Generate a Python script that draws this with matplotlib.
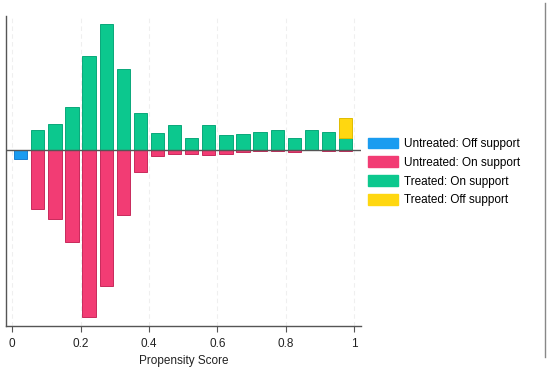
import matplotlib
matplotlib.use("Agg")
import matplotlib.pyplot as plt
from matplotlib.patches import Patch
from matplotlib.lines import Line2D
import numpy as np

plt.rcParams['font.family'] = ['Liberation Sans', 'DejaVu Sans']

bin_centers = [0.025, 0.075, 0.125, 0.175, 0.225, 0.275, 0.325, 0.375, 0.425, 0.475,
               0.525, 0.575, 0.625, 0.675, 0.725, 0.775, 0.825, 0.875, 0.925, 0.975]
treated_on = [0, 20.3, 26, 42.6, 93.6, 125.3, 81, 36.6, 16.6, 24.6,
              12.3, 24.6, 14.6, 15.6, 18.3, 20.3, 12.3, 20.3, 17.6, 11.6]
treated_off = [0, 0, 0, 0, 0, 0, 0, 0, 0, 0,
               0, 0, 0, 0, 0, 0, 0, 0, 0, 20.7]
untreated_on = [0, 59, 69, 91.6, 167, 135.6, 65, 22, 6, 4,
                4, 5, 4, 2, 1, 0.8, 2, 0.3, 1, 1]
untreated_off = [9.3, 0, 0, 0, 0, 0, 0, 0, 0, 0,
                 0, 0, 0, 0, 0, 0, 0, 0, 0, 0]
xticks = [0, 0.2, 0.4, 0.6, 0.8, 1]
xtick_labels = ['0', '0.2', '0.4', '0.6', '0.8', '1']
legend_labels = ['Untreated: Off support', 'Untreated: On support',
                 'Treated: On support', 'Treated: Off support']

c_blue = '#1a9cf0'
c_pink = '#f23c74'
c_green = '#0cc88e'
c_yellow = '#ffd710'

fig = plt.figure(figsize=(5.5, 3.74), dpi=100)
ax = fig.add_axes([6/550, 1-326/374, (361-6)/550, (326-16)/374])

w = 0.039
x = np.array(bin_centers)
to = np.array(treated_on)
tf = np.array(treated_off)
uo = np.array(untreated_on)
uf = np.array(untreated_off)

for xv in xticks:
    ax.axvline(xv, color='#efefef', lw=0.8, ls=(0, (4, 3)), zorder=0)


def draw(heights, bottoms, color, edge):
    m = heights != 0
    ax.bar(x[m], heights[m], width=w, bottom=bottoms[m], color=color,
           edgecolor=edge, lw=0.7, zorder=2)


zeros = np.zeros_like(x)
draw(to, zeros, c_green, '#0aa87a')
draw(tf, to, c_yellow, '#e0bc00')
draw(-uo, zeros, c_pink, '#c82a5c')
draw(-uf, -uo, c_blue, '#1a7fd0')

ax.axhline(0, color='#555555', lw=1.0, zorder=3)

ax.set_xlim(-0.018, 1.02)
ax.set_ylim(-175.5, 133.5)
ax.set_yticks([])
ax.set_xticks(xticks)
ax.set_xticklabels(xtick_labels, fontsize=8.5, color='#222222')
ax.tick_params(axis='x', length=4, width=0.8, color='#555555', pad=4.5)
ax.set_xlabel('Propensity Score', fontsize=8.5, color='#222222', labelpad=4)
for s in ['top', 'right']:
    ax.spines[s].set_visible(False)
for s in ['left', 'bottom']:
    ax.spines[s].set_color('#555555')
    ax.spines[s].set_linewidth(1.0)

handles = [Patch(facecolor=c, edgecolor=c) for c in [c_blue, c_pink, c_green, c_yellow]]
fig.legend(handles, legend_labels, loc='upper left', bbox_to_anchor=(364/550, 1-134/374),
           frameon=False, fontsize=8.5, handlelength=2.6, handleheight=1.0,
           handletextpad=0.5, labelspacing=0.55, borderaxespad=0, borderpad=0.3)

fig.add_artist(Line2D([545/550, 545/550], [1-3/374, 1-357/374], transform=fig.transFigure,
                      color='#888888', lw=1.0))

fig.savefig('out.png', dpi=100)
